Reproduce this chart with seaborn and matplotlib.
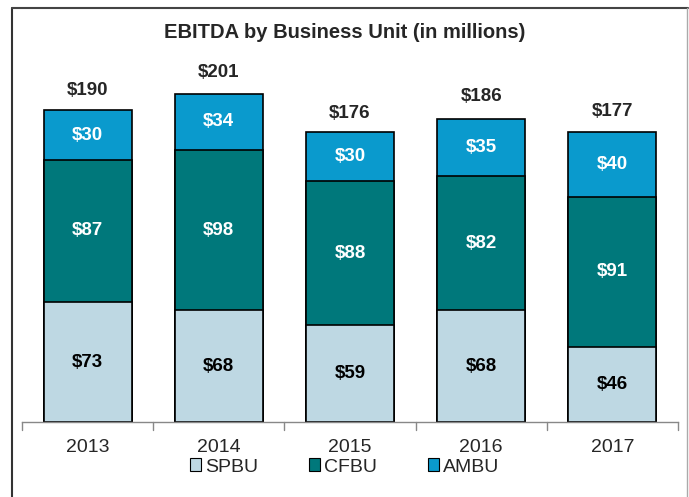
import seaborn as sns
import matplotlib.pyplot as plt
import pandas as pd
from matplotlib.lines import Line2D
from matplotlib.patches import Patch

years = ["2013", "2014", "2015", "2016", "2017"]
spbu = [73, 68, 59, 68, 46]
cfbu = [87, 98, 88, 82, 91]
ambu = [30, 34, 30, 35, 40]
totals = [190, 201, 176, 186, 177]

units = ["SPBU", "CFBU", "AMBU"]
colors = {"SPBU": "#bed8e3", "CFBU": "#00787b", "AMBU": "#0a9acd"}
text_colors = {"SPBU": "black", "CFBU": "white", "AMBU": "white"}

df = pd.DataFrame({"year": years, "SPBU": spbu, "CFBU": cfbu, "AMBU": ambu})

sns.set_style("white")
plt.rcParams['font.family'] = ['Liberation Sans Narrow', 'Liberation Sans', 'DejaVu Sans']

fig = plt.figure(figsize=(6.89, 4.97), dpi=100)
ax = fig.add_axes([22 / 689, 1 - 422 / 497, 656 / 689, 369 / 497])

# cumulative heights, drawn tallest first so the lower layers sit on top
cum = {}
run = pd.Series([0] * len(years), dtype=float)
for unit in units:
    run = run + df[unit]
    cum[unit] = run.copy()

for unit in reversed(units):
    sns.barplot(x=df["year"], y=cum[unit], color=colors[unit], edgecolor="black",
                linewidth=1.2, width=0.67, saturation=1, ax=ax)

base = pd.Series([0] * len(years), dtype=float)
for unit in units:
    for i, v in enumerate(df[unit]):
        ax.text(i, base[i] + v / 2, f"${v}", ha="center", va="center",
                fontsize=13.5, fontweight="bold", color=text_colors[unit])
    base = base + df[unit]

for i, t in enumerate(totals):
    ax.text(i, t + 7, f"${t}", ha="center", va="bottom", fontsize=13.5, fontweight="bold")

ax.set_xlim(-0.5, 4.5)
ax.set_ylim(0, 225)
ax.set_xlabel("")
ax.set_ylabel("")
ax.set_yticks([])
for s in ["top", "right", "left"]:
    ax.spines[s].set_visible(False)
ax.spines["bottom"].set_color("#888888")
ax.spines["bottom"].set_linewidth(1)
ax.set_xticks(range(len(years)))
ax.set_xticklabels(years, fontsize=14)
ax.tick_params(axis="x", length=0, pad=12)
for xb in [-0.5, 0.5, 1.5, 2.5, 3.5, 4.5]:
    ax.plot([xb, xb], [0, -5], color="#888888", lw=1, clip_on=False)

fig.text(0.5, 1 - 32 / 497, "EBITDA by Business Unit (in millions)", ha="center",
         va="center", fontsize=14.5, fontweight="bold")

handles = [Patch(facecolor=colors[u], edgecolor="black", linewidth=0.8) for u in units]
fig.legend(handles, units, loc="center", bbox_to_anchor=(0.5, 1 - 467 / 497), ncol=3,
           frameon=False, fontsize=14, handlelength=0.6, handleheight=0.6,
           handletextpad=0.2, columnspacing=2.6)

fig.add_artist(Line2D([12 / 689, 12 / 689], [0, 1 - 8 / 497], color="#333333", lw=1.5))
fig.add_artist(Line2D([12 / 689, 688 / 689], [1 - 8 / 497, 1 - 8 / 497], color="#444444", lw=1.5))
fig.add_artist(Line2D([687 / 689, 687 / 689], [0, 1 - 8 / 497], color="#aaaaaa", lw=1))

fig.savefig("out.png", dpi=100)
